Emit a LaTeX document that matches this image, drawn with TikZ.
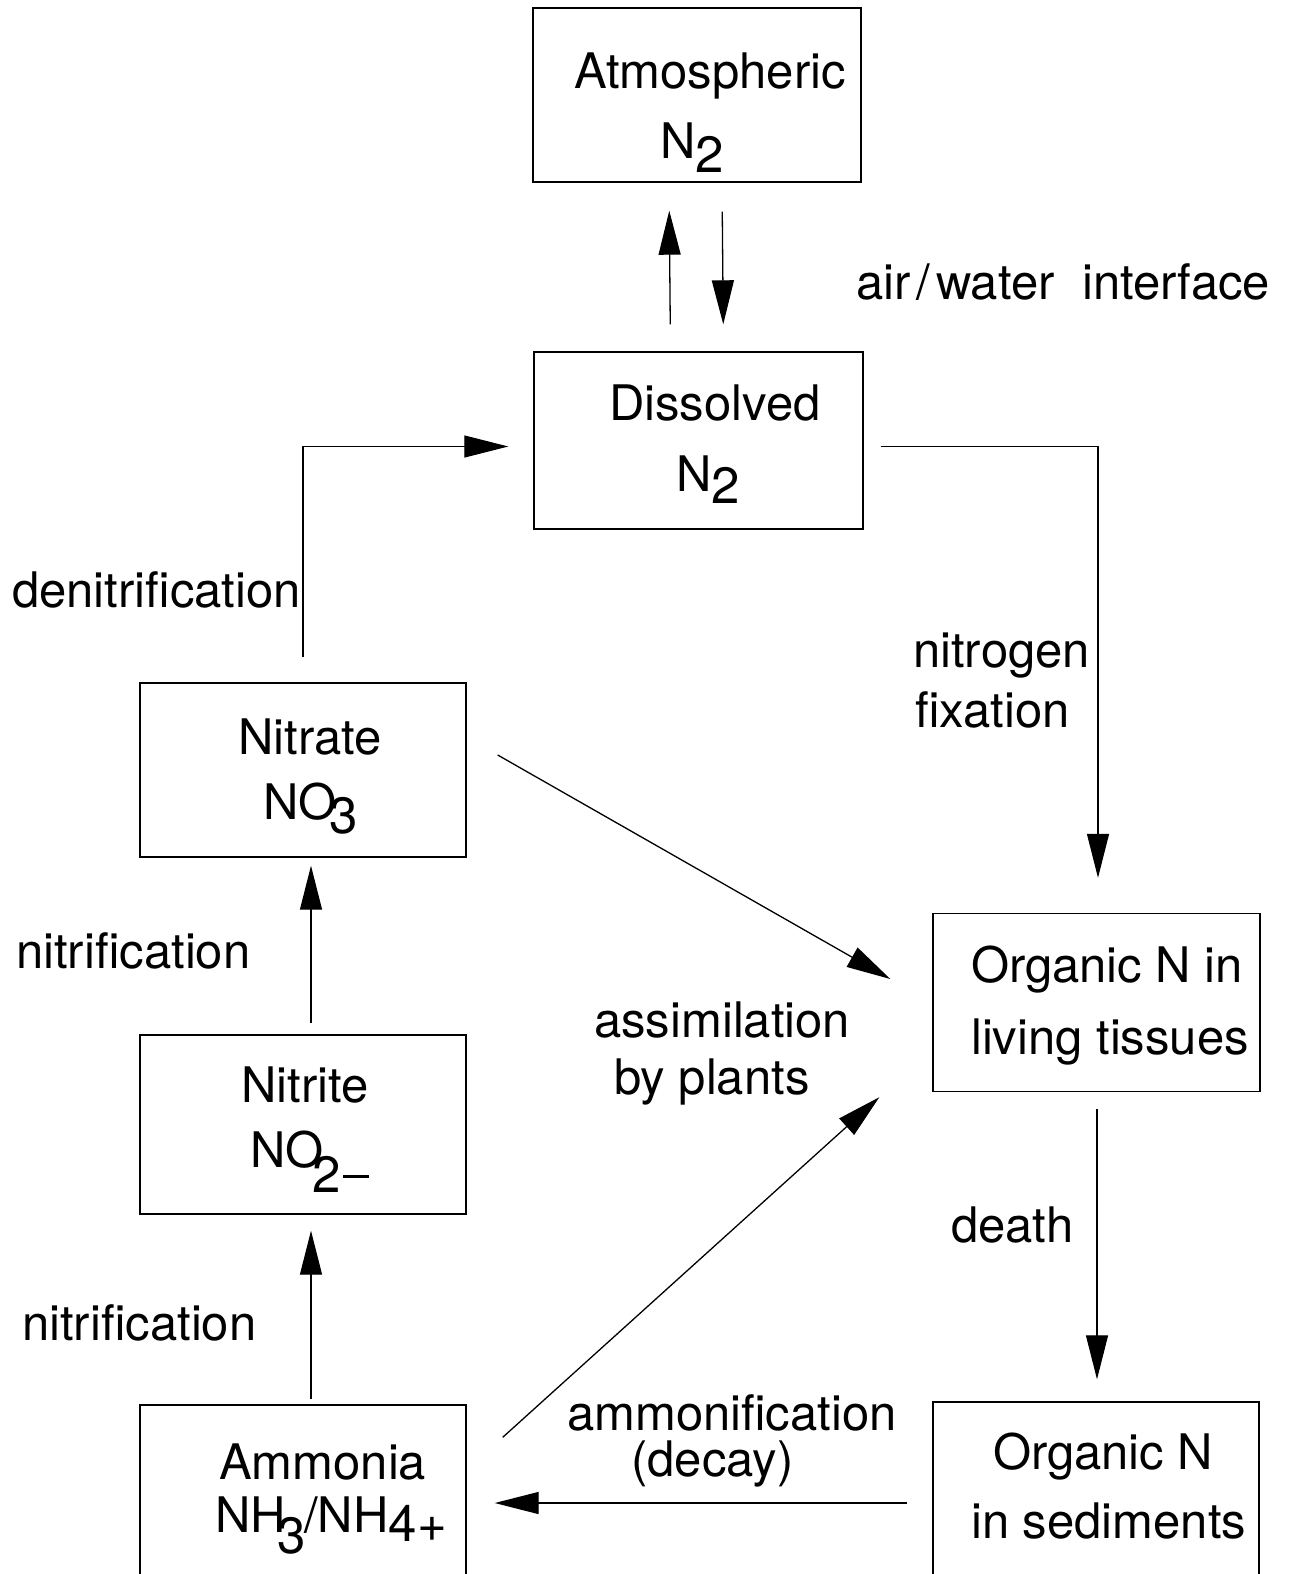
\documentclass[tikz,border=0pt]{standalone}
\usepackage{fontspec}
\setmainfont{TeX Gyre Heros}
\usetikzlibrary{arrows.meta}

% chemical subscript: full-size digit, dropped below the baseline
\newcommand\chlow[3][0pt]{\kern#1\raisebox{-#2}{\fontsize{51}{51}\selectfont #3}}
% long charge sign
\newcommand\chminus{\kern2pt\rule[14pt]{26pt}{3pt}}

\begin{document}
\begin{tikzpicture}[x=1pt,y=-1pt,
  box/.style={draw, line width=1.4pt, inner sep=0pt},
  txt/.style={font=\fontsize{49}{56}\selectfont, inner sep=0pt, anchor=base west},
  flow/.style={line width=1.3pt, -{Triangle[length=44pt,width=22pt]}}]
\useasboundingbox (0,0) rectangle (1294,1574);
\clip (0,0) rectangle (1294,1574);
\fill[white] (0,0) rectangle (1294,1574);

% compartments
\node[box, minimum width=328pt, minimum height=174pt] (atm) at (697,95) {};
\node[box, minimum width=329pt, minimum height=177pt] (dis) at (698.5,440.5) {};
\node[box, minimum width=326pt, minimum height=174pt] (nta) at (303,770) {};
\node[box, minimum width=326pt, minimum height=179pt] (nti) at (303,1124.5) {};
\node[box, minimum width=326pt, minimum height=196pt] (amm) at (303,1503) {};
\node[box, minimum width=327pt, minimum height=178pt] (liv) at (1096.5,1002.5) {};
\node[box, minimum width=326pt, minimum height=202pt] (sed) at (1096,1503) {};

% compartment texts
\node[txt] (atmA) at (574,88) {Atmospheric};
\node[txt] (atmB) at (660,158) {N\chlow{14pt}{2}};
\node[txt] (disA) at (609,420) {Dissolved};
\node[txt] (disB) at (676,491) {N\chlow{12pt}{2}};
\node[txt] (ntaA) at (238,754) {Nitrate};
\node[txt] (ntaB) at (263,819) {NO\chlow[-7pt]{14pt}{3}};
\node[txt] (ntiA) at (241,1102) {Nitrite};
\node[txt] (ntiB) at (250,1167) {NO\chlow[-11pt]{25pt}{2\chminus}};
\node[txt] (ammA) at (219,1479) {Ammonia};
\node[txt] (ammB) at (215,1532) {NH\chlow[-8pt]{21pt}{3}\kern-2pt/NH\chlow{9pt}{4+}};
\node[txt] (livA) at (971,982) {Organic N in};
\node[txt] (livB) at (971,1054) {living tissues};
\node[txt] (sedA) at (993,1469) {Organic N};
\node[txt] (sedB) at (971,1538) {in sediments};

% process labels
\node[txt] (lair) at (856,299) {air\kern6pt/\kern6pt water\hspace{14pt} interface};
\node[txt] (lden) at (12,607) {denitrification};
\node[txt] (lfixA) at (913,667) {nitrogen};
\node[txt] (lfixB) at (915,727) {fixation};
\node[txt] (lnit1) at (16,968) {nitrification};
\node[txt] (lnit2) at (22,1340) {nitrification};
\node[txt] (lasA) at (594,1037) {assimilation};
\node[txt] (lasB) at (614,1094) {by plants};
\node[txt] (ldea) at (951,1242) {death};
\node[txt] (lamA) at (567,1430) {ammonification};
\node[txt] (lamB) at (631,1476) {(decay)};

% fluxes
\draw[flow, shorten <=27pt, shorten >=28pt] ([xshift=-28pt]dis.north) -- ([xshift=-28pt]atm.south);
\draw[flow, shorten <=29pt, shorten >=27pt] ([xshift=25pt]atm.south) -- ([xshift=25pt]dis.north);
\draw[flow, shorten <=25pt, shorten >=25pt] (nta.north) |- ([yshift=-6pt]dis.west);
\draw[flow, shorten <=17pt, shorten >=35pt] ([yshift=-6pt]dis.east) -| ([xshift=1.5pt]liv.north);
\draw[flow] ([shift={(31pt,15pt)}]nta.east) -- ([shift={(-42pt,23.5pt)}]liv.west);
\draw[flow] ([shift={(36pt,-33pt)}]amm.north east) -- ([shift={(-53pt,-5pt)}]liv.south west);
\draw[flow, shorten <=11pt, shorten >=8pt] ([xshift=8pt]nti.north) -- ([xshift=8pt]nta.south);
\draw[flow, shorten <=5pt, shorten >=16pt] ([xshift=8pt]amm.north) -- ([xshift=8pt]nti.south);
\draw[flow, shorten <=17pt, shorten >=22pt] ([xshift=0.5pt]liv.south) -- ([xshift=1pt]sed.north);
\draw[flow, shorten <=25pt, shorten >=28pt] (sed.west) -- (amm.east);
\end{tikzpicture}
\end{document}
